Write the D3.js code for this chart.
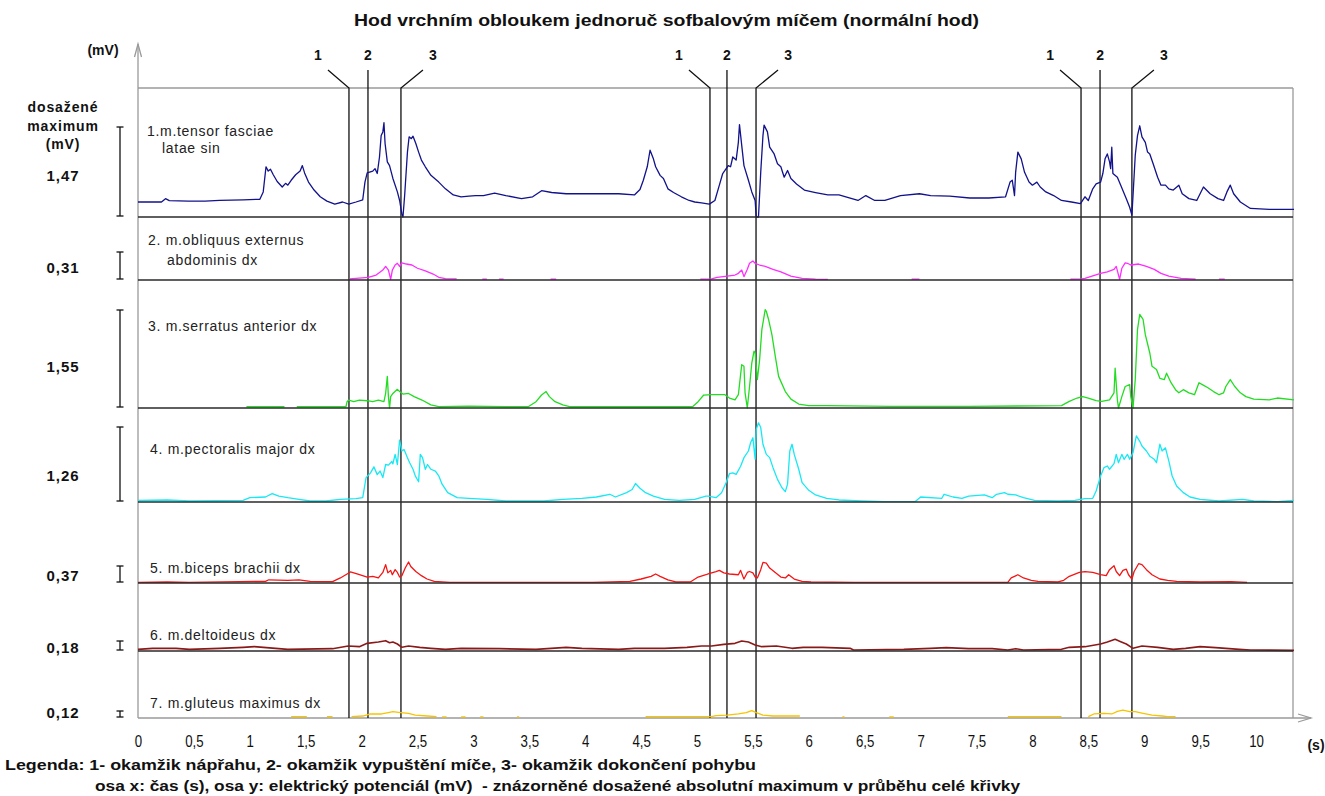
<!DOCTYPE html>
<html><head><meta charset="utf-8">
<script src="https://cdn.jsdelivr.net/npm/d3@7"></script>
<style>
body{margin:0;background:#fff}
svg{display:block}
text{font-family:"Liberation Sans",Arial,Helvetica,sans-serif}
</style>
</head><body>
<svg id="chart" width="1325" height="796"></svg>
<script>
// ---- Data: EMG envelopes, time in s, potential in mV ----
const tensorFasciae = [[0,0.245],[0.21,0.245],[0.246,0.30],[0.28,0.267],[0.45,0.26],[0.60,0.26],[0.73,0.27],[0.94,0.28],[1.09,0.29],[1.12,0.41],[1.145,0.82],[1.165,0.75],[1.185,0.78],[1.21,0.69],[1.245,0.58],[1.29,0.49],[1.32,0.55],[1.34,0.52],[1.37,0.60],[1.41,0.69],[1.45,0.75],[1.47,0.84],[1.49,0.72],[1.525,0.57],[1.575,0.44],[1.63,0.33],[1.69,0.26],[1.76,0.21],[1.83,0.245],[1.885,0.21],[1.95,0.245],[2.01,0.28],[2.03,0.57],[2.05,0.72],[2.10,0.75],[2.12,0.79],[2.14,0.71],[2.16,0.98],[2.175,1.33],[2.19,1.39],[2.20,1.54],[2.21,1.20],[2.23,0.90],[2.25,0.84],[2.28,0.63],[2.32,0.41],[2.34,0.27],[2.36,0.05],[2.37,0],[2.385,0.35],[2.41,1.06],[2.425,1.31],[2.445,1.28],[2.46,1.32],[2.485,1.20],[2.51,1.06],[2.535,0.93],[2.57,0.82],[2.62,0.68],[2.69,0.57],[2.75,0.46],[2.82,0.36],[2.89,0.33],[2.96,0.34],[3.02,0.35],[3.09,0.35],[3.19,0.39],[3.29,0.35],[3.43,0.30],[3.53,0.33],[3.61,0.43],[3.70,0.40],[3.83,0.38],[3.97,0.38],[4.13,0.38],[4.30,0.38],[4.44,0.36],[4.49,0.45],[4.52,0.60],[4.555,0.82],[4.58,1.09],[4.61,0.95],[4.63,0.82],[4.67,0.68],[4.70,0.63],[4.74,0.46],[4.79,0.40],[4.86,0.33],[4.93,0.27],[4.98,0.245],[5.04,0.23],[5.11,0.21],[5.16,0.27],[5.20,0.52],[5.23,0.71],[5.25,0.76],[5.28,0.84],[5.30,0.82],[5.32,0.98],[5.35,0.93],[5.37,1.22],[5.38,1.51],[5.40,1.17],[5.42,0.84],[5.46,0.60],[5.49,0.41],[5.52,0.27],[5.53,0],[5.55,0],[5.57,0.73],[5.59,1.33],[5.60,1.50],[5.63,1.39],[5.65,1.14],[5.69,1.03],[5.72,0.87],[5.75,0.82],[5.78,0.65],[5.81,0.76],[5.84,0.63],[5.89,0.54],[5.96,0.44],[6.06,0.40],[6.17,0.36],[6.27,0.36],[6.37,0.31],[6.44,0.27],[6.51,0.35],[6.59,0.27],[6.68,0.27],[6.82,0.35],[6.99,0.38],[7.09,0.35],[7.26,0.34],[7.44,0.31],[7.61,0.31],[7.76,0.33],[7.80,0.57],[7.82,0.60],[7.84,0.35],[7.85,0.73],[7.87,1.06],[7.90,0.95],[7.93,0.73],[7.97,0.57],[8.00,0.52],[8.04,0.57],[8.07,0.49],[8.12,0.41],[8.19,0.35],[8.26,0.27],[8.35,0.245],[8.43,0.22],[8.47,0.33],[8.50,0.27],[8.54,0.46],[8.57,0.54],[8.61,0.57],[8.63,0.71],[8.65,0.95],[8.67,1.03],[8.69,0.90],[8.70,0.79],[8.71,1.14],[8.72,0.71],[8.76,0.65],[8.79,0.52],[8.84,0.30],[8.87,0.16],[8.89,0.03],[8.90,0.35],[8.92,1.01],[8.94,1.33],[8.96,1.49],[8.98,1.31],[9.01,1.22],[9.03,1.06],[9.05,1.03],[9.08,0.87],[9.12,0.65],[9.15,0.52],[9.19,0.52],[9.22,0.46],[9.26,0.44],[9.31,0.52],[9.34,0.38],[9.40,0.30],[9.47,0.27],[9.50,0.38],[9.53,0.49],[9.59,0.38],[9.66,0.30],[9.71,0.27],[9.74,0.41],[9.77,0.52],[9.80,0.38],[9.86,0.245],[9.95,0.14],[10.12,0.125],[10.34,0.125]];

const obliquusExternus = [[1.895,0.012],[2.06,0.03],[2.13,0.055],[2.19,0.11],[2.215,0.15],[2.24,0.11],[2.26,0.007],[2.275,0.11],[2.30,0.166],[2.32,0.185],[2.34,0.15],[2.36,0.19],[2.40,0.177],[2.45,0.166],[2.50,0.13],[2.57,0.10],[2.64,0.066],[2.69,0.03],[2.75,0.015],[2.85,0.012],[2.86,null],[3.08,0.01],[3.12,0.01],[3.13,null],[3.23,0.01],[3.27,0.01],[3.28,null],[3.69,0.01],[3.74,0.01],[3.75,null],[5.03,0.01],[5.13,0.012],[5.18,0.03],[5.27,0.044],[5.34,0.055],[5.37,0.074],[5.40,0.11],[5.42,0.037],[5.45,0.118],[5.47,0.185],[5.50,0.21],[5.52,0.185],[5.56,0.166],[5.61,0.15],[5.68,0.118],[5.75,0.09],[5.84,0.044],[5.94,0.018],[6.06,0.01],[6.17,0.007],[6.18,null],[6.92,0.01],[6.99,0.01],[7.0,null],[8.34,0.01],[8.44,0.012],[8.47,0.018],[8.61,0.074],[8.67,0.09],[8.73,0.118],[8.75,0.15],[8.78,0.007],[8.80,0.13],[8.83,0.19],[8.85,0.185],[8.88,0.166],[8.95,0.177],[9.02,0.15],[9.09,0.118],[9.15,0.074],[9.22,0.044],[9.33,0.018],[9.46,0.01],[9.47,null],[9.67,0.01],[9.72,0.01]];

const serratusAnterior = [[0.97,0.02],[1.31,0.02],[1.32,null],[1.42,0.02],[1.86,0.02],[1.87,0.10],[1.885,0.126],[1.93,0.10],[1.98,0.126],[2.05,0.115],[2.10,0.10],[2.15,0.126],[2.20,0.10],[2.215,0.23],[2.23,0.50],[2.24,0.18],[2.25,0],[2.26,0.18],[2.28,0.23],[2.32,0.295],[2.34,0.26],[2.37,0.22],[2.42,0.23],[2.47,0.18],[2.54,0.126],[2.62,0.05],[2.69,0.02],[2.96,0.03],[3.29,0.02],[3.49,0.02],[3.56,0.10],[3.61,0.205],[3.65,0.26],[3.68,0.18],[3.73,0.10],[3.80,0.05],[3.86,0.02],[4.30,0.02],[4.96,0.02],[5.01,0.10],[5.06,0.205],[5.13,0.21],[5.25,0.21],[5.29,0.158],[5.34,0.13],[5.37,0.21],[5.40,0.685],[5.42,0.66],[5.43,0.24],[5.45,0],[5.47,0.34],[5.49,0.71],[5.51,0.90],[5.52,0.87],[5.54,0.45],[5.56,0.76],[5.58,1.24],[5.61,1.555],[5.62,1.53],[5.64,1.40],[5.67,1.16],[5.70,0.82],[5.73,0.50],[5.79,0.26],[5.84,0.14],[5.91,0.063],[6.00,0.037],[6.16,0.037],[6.73,0.026],[7.43,0.026],[8.26,0.037],[8.33,0.105],[8.40,0.158],[8.45,0.18],[8.50,0.158],[8.57,0.116],[8.62,0.105],[8.69,0.13],[8.73,0.24],[8.74,0.63],[8.76,0.13],[8.77,0],[8.80,0.18],[8.83,0.34],[8.87,0.37],[8.88,0.18],[8.90,0],[8.92,0.45],[8.94,1.24],[8.96,1.48],[8.99,1.40],[9.01,1.16],[9.05,0.87],[9.07,0.66],[9.11,0.61],[9.14,0.47],[9.18,0.45],[9.20,0.55],[9.24,0.40],[9.28,0.29],[9.31,0.24],[9.35,0.29],[9.40,0.24],[9.45,0.21],[9.49,0.40],[9.52,0.37],[9.57,0.32],[9.62,0.26],[9.67,0.21],[9.71,0.24],[9.73,0.34],[9.77,0.45],[9.81,0.34],[9.86,0.24],[9.91,0.18],[9.98,0.14],[10.12,0.13],[10.19,0.158],[10.34,0.13]];

const pectoralisMajor = [[0,0.028],[0.26,0.034],[0.46,0.017],[0.94,0.028],[1.00,0.073],[1.14,0.084],[1.20,0.14],[1.26,0.10],[1.34,0.073],[1.44,0.045],[1.54,0.017],[1.68,0.017],[1.81,0.045],[1.95,0.056],[2.01,0.073],[2.04,0.41],[2.08,0.49],[2.11,0.59],[2.14,0.46],[2.165,0.52],[2.19,0.41],[2.215,0.63],[2.24,0.62],[2.27,0.68],[2.28,0.64],[2.30,0.80],[2.32,0.63],[2.34,1.04],[2.36,0.86],[2.38,0.88],[2.41,0.745],[2.43,0.66],[2.46,0.55],[2.48,0.44],[2.51,0.34],[2.525,0.80],[2.545,0.745],[2.57,0.55],[2.59,0.63],[2.62,0.55],[2.66,0.52],[2.69,0.44],[2.72,0.30],[2.77,0.157],[2.855,0.073],[2.96,0.062],[3.12,0.045],[3.29,0.017],[3.46,0.017],[3.63,0.017],[3.80,0.045],[3.97,0.062],[4.10,0.084],[4.22,0.13],[4.27,0.084],[4.37,0.157],[4.42,0.21],[4.45,0.31],[4.49,0.23],[4.54,0.157],[4.61,0.10],[4.71,0.045],[4.84,0.028],[4.98,0.045],[5.08,0.10],[5.10,0.10],[5.17,0.073],[5.22,0.157],[5.26,0.325],[5.29,0.476],[5.32,0.49],[5.35,0.465],[5.39,0.60],[5.42,0.745],[5.46,0.857],[5.48,1.00],[5.50,1.08],[5.52,0.72],[5.53,1.22],[5.55,1.33],[5.57,1.25],[5.59,0.97],[5.62,0.80],[5.65,0.745],[5.68,0.577],[5.72,0.38],[5.76,0.24],[5.79,0.174],[5.81,0.30],[5.83,0.857],[5.85,0.97],[5.87,0.80],[5.91,0.55],[5.94,0.325],[6.00,0.196],[6.06,0.118],[6.16,0.062],[6.27,0.034],[6.47,0.017],[6.68,0.006],[6.95,0.006],[7.00,0.084],[7.19,0.062],[7.21,0.13],[7.29,0.084],[7.37,0.062],[7.43,0.10],[7.57,0.118],[7.64,0.073],[7.68,0.13],[7.75,0.157],[7.78,0.13],[7.85,0.118],[7.92,0.073],[8.02,0.028],[8.23,0.017],[8.38,0.028],[8.47,0.056],[8.54,0.062],[8.57,0.185],[8.61,0.437],[8.64,0.577],[8.67,0.605],[8.69,0.55],[8.73,0.644],[8.75,0.80],[8.77,0.66],[8.80,0.80],[8.82,0.717],[8.85,0.80],[8.87,0.717],[8.90,0.83],[8.92,1.02],[8.93,1.11],[8.96,1.02],[8.98,0.94],[9.02,0.857],[9.05,0.77],[9.09,0.717],[9.11,0.66],[9.14,0.97],[9.16,0.857],[9.19,0.91],[9.22,0.69],[9.25,0.437],[9.29,0.27],[9.35,0.157],[9.41,0.084],[9.50,0.045],[9.67,0.017],[9.88,0.045],[9.98,0.017],[10.19,0.006],[10.34,0.028]];

const bicepsBrachii = [[0,0.015],[0.26,0.022],[0.46,0.015],[1.14,0.036],[1.17,0.07],[1.34,0.058],[1.44,0.07],[1.54,0.036],[1.74,0.03],[1.81,0.11],[1.90,0.24],[1.96,0.196],[2.05,0.13],[2.10,0.145],[2.15,0.11],[2.19,0.23],[2.215,0.40],[2.235,0.22],[2.26,0.275],[2.275,0.18],[2.30,0.29],[2.32,0.23],[2.34,0.13],[2.36,0.16],[2.39,0.326],[2.42,0.457],[2.44,0.36],[2.485,0.25],[2.535,0.16],[2.585,0.087],[2.65,0.036],[2.79,0.015],[4.07,0.015],[4.40,0.036],[4.50,0.087],[4.59,0.145],[4.63,0.196],[4.67,0.145],[4.74,0.07],[4.81,0.022],[4.94,0.022],[5.01,0.13],[5.08,0.18],[5.10,0.20],[5.17,0.25],[5.20,0.275],[5.24,0.22],[5.29,0.196],[5.37,0.18],[5.39,0.275],[5.41,0.145],[5.42,0.087],[5.45,0.23],[5.47,0.25],[5.50,0.22],[5.52,0.13],[5.54,0.11],[5.57,0.29],[5.59,0.45],[5.62,0.435],[5.65,0.326],[5.70,0.23],[5.75,0.13],[5.79,0.11],[5.82,0.18],[5.87,0.087],[5.94,0.036],[6.02,0.022],[6.40,0.015],[7.78,0.015],[7.81,0.11],[7.87,0.18],[7.92,0.11],[7.99,0.058],[8.05,0.036],[8.23,0.022],[8.28,0.058],[8.33,0.145],[8.42,0.23],[8.47,0.247],[8.54,0.23],[8.61,0.18],[8.66,0.16],[8.69,0.29],[8.73,0.377],[8.75,0.25],[8.78,0.16],[8.81,0.275],[8.84,0.30],[8.86,0.18],[8.89,0.087],[8.91,0.25],[8.95,0.42],[8.98,0.40],[9.02,0.29],[9.07,0.18],[9.14,0.087],[9.21,0.058],[9.29,0.036],[9.50,0.022],[9.78,0.03],[9.92,0.015]];

const deltoideus = [[0,0.03],[0.13,0.048],[0.34,0.048],[0.46,0.03],[0.73,0.048],[0.94,0.066],[1.04,0.078],[1.34,0.03],[1.74,0.042],[1.88,0.09],[1.98,0.078],[2.05,0.138],[2.15,0.162],[2.215,0.186],[2.25,0.15],[2.28,0.162],[2.32,0.126],[2.36,0.066],[2.42,0.09],[2.52,0.066],[2.62,0.048],[2.75,0.03],[2.89,0.048],[3.23,0.042],[3.56,0.03],[3.83,0.066],[3.97,0.048],[4.30,0.03],[4.44,0.048],[4.71,0.048],[4.91,0.066],[5.04,0.09],[5.13,0.09],[5.24,0.12],[5.34,0.138],[5.40,0.18],[5.46,0.162],[5.52,0.108],[5.58,0.078],[5.71,0.09],[5.85,0.048],[5.95,0.066],[6.12,0.066],[6.37,0.048],[6.40,0.018],[6.85,0.03],[7.09,0.048],[7.23,0.06],[7.43,0.042],[7.64,0.042],[7.78,0.018],[7.85,0.042],[7.92,0.018],[8.26,0.03],[8.33,0.066],[8.47,0.078],[8.61,0.126],[8.67,0.162],[8.74,0.21],[8.79,0.168],[8.84,0.126],[8.90,0.048],[8.98,0.09],[9.12,0.066],[9.26,0.03],[9.37,0.048],[9.50,0.078],[9.64,0.06],[9.85,0.03],[9.95,0.018],[10.34,0.012]];

const gluteusMaximus = [[1.37,0.023],[1.51,0.023],[1.52,null],[1.69,0.023],[1.74,0.023],[1.75,null],[1.91,0.023],[2.01,0.034],[2.08,0.069],[2.18,0.069],[2.25,0.097],[2.28,0.108],[2.33,0.097],[2.42,0.08],[2.48,0.051],[2.59,0.034],[2.67,0.023],[2.68,null],[2.72,0.02],[2.76,0.02],[2.77,null],[2.89,0.02],[2.93,0.02],[2.94,null],[3.06,0.02],[3.09,0.02],[3.10,null],[3.39,0.02],[3.41,0.02],[3.42,null],[4.54,0.023],[5.13,0.023],[5.17,0.04],[5.27,0.051],[5.37,0.069],[5.44,0.091],[5.49,0.126],[5.53,0.091],[5.59,0.051],[5.68,0.034],[5.92,0.034],[5.93,null],[6.30,0.02],[6.32,0.02],[6.33,null],[6.72,0.02],[6.76,0.02],[6.77,null],[7.78,0.023],[8.26,0.023],[8.27,null],[8.50,0.023],[8.55,0.069],[8.64,0.08],[8.71,0.069],[8.76,0.114],[8.81,0.137],[8.87,0.108],[8.92,0.108],[8.99,0.08],[9.07,0.051],[9.16,0.034],[9.21,0.023],[9.28,0.023]];

// Achieved absolute maximum per muscle (mV)
const maxima = [1.47, 0.31, 1.55, 1.26, 0.37, 0.18, 0.12];
const maximaLabels = ["1,47", "0,31", "1,55", "1,26", "0,37", "0,18", "0,12"];

const muscleLabels = [
  ["1.m.tensor fasciae", "latae sin"],
  ["2. m.obliquus externus", "abdominis dx"],
  ["3. m.serratus anterior dx"],
  ["4. m.pectoralis major dx"],
  ["5. m.biceps brachii dx"],
  ["6. m.deltoideus dx"],
  ["7. m.gluteus maximus dx"]
];

// Phase markers: 1 - wind-up, 2 - release, 3 - follow-through end (s)
const markerTimes = [1.887, 2.057, 2.352, 5.116, 5.268, 5.528, 8.435, 8.605, 8.89];
const markerLabels = ["1", "2", "3", "1", "2", "3", "1", "2", "3"];

const xTicks = [0, 0.5, 1, 1.5, 2, 2.5, 3, 3.5, 4, 4.5, 5, 5.5, 6, 6.5, 7, 7.5, 8, 8.5, 9, 9.5, 10];

const titleText = "Hod vrchním obloukem jednoruč sofbalovým míčem (normální hod)";
const legendLines = [
  "Legenda: 1- okamžik nápřahu, 2- okamžik vypuštění míče, 3- okamžik dokončení pohybu",
  "osa x: čas (s), osa y: elektrický potenciál (mV)  - znázorněné dosažené absolutní maximum v průběhu celé křivky"
];

// ---- Layout ----
const series = [tensorFasciae, obliquusExternus, serratusAnterior, pectoralisMajor, bicepsBrachii, deltoideus, gluteusMaximus];
const colors = ["#12128c", "#ff2cff", "#22dd22", "#18e8f4", "#f41414", "#8a1a1a", "#f7c400"];
const baselines = [217, 280, 408, 502, 583, 651, 718];
const barHeights = [90, 28, 98, 75, 17, 10, 7];
const labelPos = [
  [[147, 136], [162, 153]],
  [[148, 245], [167, 265]],
  [[148, 331]],
  [[150, 454]],
  [[150, 573]],
  [[150, 640]],
  [[150, 708]]
];
const valueLabelY = [181, 273, 372, 481, 581, 653, 718];

const plotLeft = 138, plotRight = 1293, plotTop = 88, axisY = 718;

const svg = d3.select("#chart");
svg.append("rect").attr("width", 1325).attr("height", 796).attr("fill", "#fff");

const x = d3.scaleLinear().domain([0, 10]).range([138, 1256]);
const yScales = maxima.map((m, i) =>
  d3.scaleLinear().domain([0, m]).range([baselines[i], baselines[i] - barHeights[i]]));

// Title
svg.append("text")
  .attr("x", 354).attr("y", 26)
  .attr("font-size", 16).attr("font-weight", "bold").attr("fill", "#111")
  .attr("textLength", 625).attr("lengthAdjust", "spacingAndGlyphs")
  .text(titleText);

// Frame: y axis, top and right border
const frame = svg.append("g").attr("stroke", "#9a9a9a").attr("stroke-width", 1.3).attr("fill", "none");
frame.append("line").attr("x1", plotLeft).attr("y1", axisY).attr("x2", plotLeft).attr("y2", 44);
frame.append("path").attr("d", `M${plotLeft - 3.5},57 L${plotLeft},44 L${plotLeft + 3.5},57`);
frame.append("line").attr("x1", plotLeft).attr("y1", plotTop).attr("x2", plotRight).attr("y2", plotTop);
frame.append("line").attr("x1", plotRight).attr("y1", plotTop).attr("x2", plotRight).attr("y2", axisY);
frame.append("line").attr("x1", plotLeft).attr("y1", axisY).attr("x2", 1311).attr("y2", axisY);
frame.append("path").attr("d", `M1298,714 L1311,718 L1298,722`);

svg.append("text").attr("x", 103).attr("y", 55).attr("text-anchor", "middle")
  .attr("font-size", 14).attr("font-weight", "bold").attr("fill", "#111").text("(mV)");

// Phase marker lines and numbers
const markers = svg.append("g").attr("stroke", "#111").attr("stroke-width", 1.3).attr("fill", "none");
markerTimes.forEach((t, i) => {
  const mx = x(t);
  const kind = markerLabels[i];
  if (kind === "2") {
    markers.append("line").attr("x1", mx).attr("y1", 70).attr("x2", mx).attr("y2", axisY);
  } else {
    const dx = kind === "1" ? -21 : 22;
    markers.append("path").attr("d", `M${mx + dx},70 L${mx},${plotTop} L${mx},${axisY}`);
  }
  const lx = kind === "1" ? mx - 31 : kind === "3" ? mx + 32 : mx;
  svg.append("text").attr("x", lx).attr("y", 60).attr("text-anchor", "middle")
    .attr("font-size", 14).attr("font-weight", "bold").attr("fill", "#111").text(kind);
});

// Left column header
const header = ["dosažené", "maximum", "(mV)"];
header.forEach((h, i) => {
  svg.append("text").attr("x", 63).attr("y", 112 + i * 18.5).attr("text-anchor", "middle")
    .attr("font-size", 14).attr("font-weight", "bold").attr("letter-spacing", 0.9)
    .attr("fill", "#111").text(h);
});

// Muscle traces
const traces = svg.append("g");
series.forEach((data, i) => {
  const y = yScales[i];
  const line = d3.line()
    .defined(d => d[1] !== null)
    .x(d => x(d[0]))
    .y(d => y(d[1]));
  traces.append("path")
    .datum(data)
    .attr("d", line)
    .attr("fill", "none")
    .attr("stroke", colors[i])
    .attr("stroke-width", i === 5 ? 1.6 : 1.3)
    .attr("stroke-linejoin", "round");
});

// Panel separators drawn above the traces
const seps = svg.append("g").attr("stroke", "#2a2a2a").attr("stroke-width", 1.5);
baselines.slice(0, 6).forEach(b => {
  seps.append("line").attr("x1", plotLeft).attr("y1", b).attr("x2", plotRight).attr("y2", b);
});

// Muscle names
muscleLabels.forEach((lines, i) => {
  lines.forEach((txt, j) => {
    svg.append("text").attr("x", labelPos[i][j][0]).attr("y", labelPos[i][j][1])
      .attr("font-size", 14).attr("letter-spacing", 0.7).attr("fill", "#222").text(txt);
  });
});

// Maximum scale bars with their values
const bars = svg.append("g").attr("stroke", "#111").attr("stroke-width", 1.3);
maxima.forEach((m, i) => {
  const y = yScales[i];
  const y0 = y(0) - 1, y1 = y(m);
  bars.append("line").attr("x1", 120).attr("y1", y0).attr("x2", 120).attr("y2", y1);
  bars.append("line").attr("x1", 116.5).attr("y1", y0).attr("x2", 123.5).attr("y2", y0);
  bars.append("line").attr("x1", 116.5).attr("y1", y1).attr("x2", 123.5).attr("y2", y1);
  svg.append("text").attr("x", 63).attr("y", valueLabelY[i]).attr("text-anchor", "middle")
    .attr("font-size", 15).attr("font-weight", "bold").attr("letter-spacing", 1)
    .attr("fill", "#111").text(maximaLabels[i]);
});

// Time axis labels
const xAxis = d3.axisBottom(x)
  .tickValues(xTicks)
  .tickSize(0)
  .tickPadding(17)
  .tickFormat(v => String(v).replace(".", ","));
svg.append("g")
  .attr("transform", `translate(0,${axisY})`)
  .call(xAxis)
  .call(g => g.select(".domain").remove())
  .call(g => g.selectAll("text")
    .attr("font-size", 17)
    .attr("font-family", "\"Liberation Sans\",Arial,sans-serif")
    .attr("fill", "#111")
    .attr("transform", "scale(0.78,1)"));

svg.append("text").attr("x", 1316).attr("y", 750).attr("text-anchor", "middle")
  .attr("font-size", 14).attr("font-weight", "bold").attr("fill", "#111").text("(s)");

// Legend
svg.append("text").attr("x", 5).attr("y", 770)
  .attr("font-size", 15).attr("font-weight", "bold").attr("fill", "#111")
  .attr("textLength", 751).attr("lengthAdjust", "spacingAndGlyphs")
  .text(legendLines[0]);
svg.append("text").attr("x", 95).attr("y", 791)
  .attr("font-size", 15).attr("font-weight", "bold").attr("fill", "#111")
  .attr("textLength", 925).attr("lengthAdjust", "spacingAndGlyphs")
  .attr("xml:space", "preserve")
  .text(legendLines[1]);
</script>
</body></html>
